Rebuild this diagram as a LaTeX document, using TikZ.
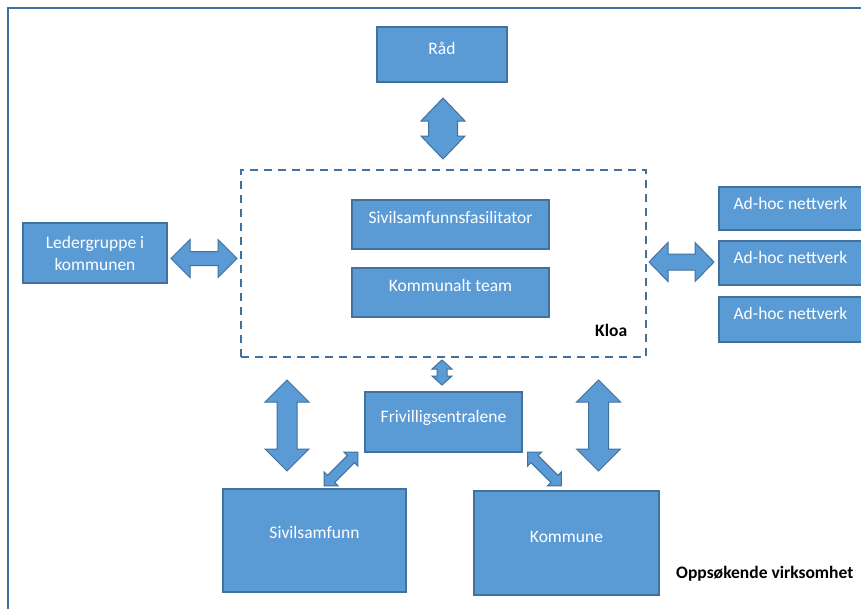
\documentclass[tikz,border=0pt]{standalone}
\usepackage{fontspec}
\setmainfont{Carlito}
\usetikzlibrary{fit}
\definecolor{boxfill}{HTML}{5B9BD5}
\definecolor{boxline}{HTML}{41719C}
\tikzset{
  box/.style={draw=boxline, fill=boxfill, line width=1.3pt, inner sep=0pt},
  dashbox/.style={draw=boxline, line width=1.3pt, dash pattern=on 8pt off 6pt, inner sep=0pt},
  frame/.style={draw=boxline, line width=1.6pt},
  txt/.style={text=white, anchor=base, inner sep=0pt, font=\fontsize{17.5}{22}\selectfont, align=center},
  btxt/.style={text=black, anchor=base west, inner sep=0pt, font=\fontsize{17.5}{22}\selectfont\bfseries},
  blockarrow/.style={draw=boxline, fill=boxfill, line width=1pt, line join=miter}
}
% cx, cy, angle, length, head half width, shaft half width, head length
\newcommand{\dblarrow}[7]{%
\begin{scope}[shift={(#1,#2)}, rotate=#3]
\filldraw[blockarrow] (-#4/2,0) -- (-#4/2+#7,#5) -- (-#4/2+#7,#6) -- (#4/2-#7,#6) -- (#4/2-#7,#5) -- (#4/2,0) -- (#4/2-#7,-#5) -- (#4/2-#7,-#6) -- (-#4/2+#7,-#6) -- (-#4/2+#7,-#5) -- cycle;
\end{scope}}
\begin{document}
\begin{tikzpicture}[x=1pt, y=-1pt]
\useasboundingbox (0,0) rectangle (861,608);
\clip (0,0) rectangle (861,608);
\fill[white] (0,0) rectangle (861,608);
\draw[frame] (8,8) rectangle (900,700);

% boxes
\node[box, fit={(377,27) (507,82)}] (rad) {};
\node[txt] (radt) at (442,54) {Råd};

\node[dashbox, fit={(241,170) (646,357)}] (kloa) {};
\node[box, fit={(352,200) (549,249)}] (fas) {};
\node[txt] (fast) at (450.5,223) {Sivilsamfunnsfasilitator};
\node[box, fit={(352,268) (549,317)}] (team) {};
\node[txt] (teamt) at (450.5,291) {Kommunalt team};
\node[btxt] (kloat) at (595,336) {Kloa};

\node[box, fit={(23,223) (167,283)}] (led) {};
\node[txt, anchor=base] (ledt) at (95,270) {Ledergruppe i\\kommunen};

\node[box, fit={(719,187) (862,230)}] (ad1) {};
\node[txt] (ad1t) at (790.5,209) {Ad-hoc nettverk};
\node[box, fit={(719,241) (862,285)}] (ad2) {};
\node[txt] (ad2t) at (790.5,263) {Ad-hoc nettverk};
\node[box, fit={(719,297) (862,342)}] (ad3) {};
\node[txt] (ad3t) at (790.5,319) {Ad-hoc nettverk};

\node[box, fit={(365,392) (522,452)}] (fri) {};
\node[txt] (frit) at (443.5,422) {Frivilligsentralene};

\node[box, fit={(223,489) (406,592)}] (siv) {};
\node[txt] (sivt) at (314.5,538) {Sivilsamfunn};
\node[box, fit={(474,491) (659,595)}] (kom) {};
\node[txt] (komt) at (566.5,542) {Kommune};

\node[btxt] (opps) at (676,578) {Oppsøkende virksomhet};

% block arrows
\dblarrow{443}{128.5}{90}{61}{22}{14.5}{23}
\dblarrow{204}{258.5}{0}{66}{19}{7}{19}
\dblarrow{681.5}{262}{0}{65}{19.5}{8}{19}
\dblarrow{442}{372.5}{90}{25}{10}{5}{9}
\dblarrow{287}{425.5}{90}{91}{22}{10}{22}
\dblarrow{598.5}{425.5}{90}{91}{22}{10}{22}
\dblarrow{341}{469}{45}{48}{10}{5}{10}
\dblarrow{544.5}{469}{-45}{48}{10}{5}{10}
\end{tikzpicture}
\end{document}
